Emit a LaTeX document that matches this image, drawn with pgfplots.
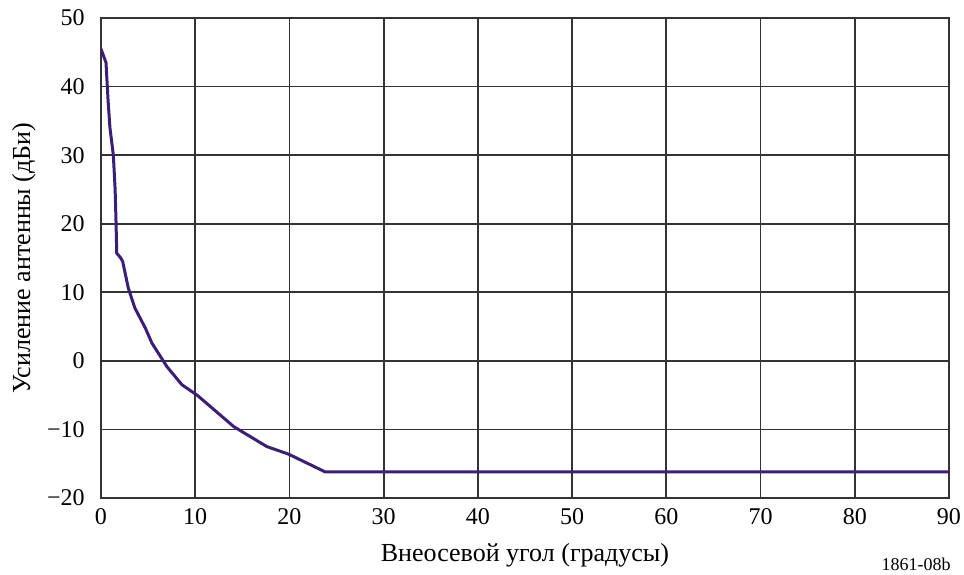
\documentclass[border=0pt]{standalone}
\usepackage{fontspec}
\setmainfont{Liberation Serif}
\usepackage{pgfplots}
\pgfplotsset{compat=1.18}
\definecolor{curve}{RGB}{58,30,120}
\begin{document}
\fontsize{12pt}{14pt}\selectfont
\begin{tikzpicture}
\useasboundingbox (-50.5pt,-38pt) rectangle (431.5pt,249pt);
\begin{axis}[
  at={(0,0)}, anchor=south west,
  scale only axis, width=424pt, height=240pt,
  xmin=0, xmax=90, ymin=-20, ymax=50,
  xtick={0,10,...,90}, ytick={-20,-10,...,50},
  yticklabels={−20,−10,0,10,20,30,40,50},
  grid=major,
  grid style={black!80, line width=0.85pt},
  axis line style={black!80, line width=0.9pt},
  major tick length=0pt,
  tick label style={font=\fontsize{12pt}{14pt}\selectfont},
  /pgf/number format/assume math mode=true,
  xticklabel style={yshift=-1pt},
  yticklabel style={xshift=-4pt},
  xlabel={Внеосевой угол (градусы)},
  ylabel={Усиление антенны (дБи)},
  label style={font=\fontsize{13pt}{15pt}\selectfont},
  xlabel style={yshift=-1pt},
  ylabel style={yshift=-2.5pt},
]
\addplot[curve, line width=1.5pt, line join=round] coordinates {
(0,45.5) (0.53,43.5) (0.75,38) (0.95,34) (1.31,30) (1.5,25) (1.6,20) (1.67,15.7)
(2.1,15.0) (2.3,14.5) (2.9,10.6) (3.6,7.7) (4.7,4.8) (5.4,2.6) (7.0,-0.85) (8.6,-3.5)
(10.2,-5.0) (14.1,-9.6) (17.6,-12.5) (19.9,-13.6) (23.8,-16.2) (90,-16.2)
};
\end{axis}
\node[anchor=base east, font=\fontsize{9pt}{10pt}\selectfont] at (429pt,-36pt) {1861-08b};
\end{tikzpicture}
\end{document}
